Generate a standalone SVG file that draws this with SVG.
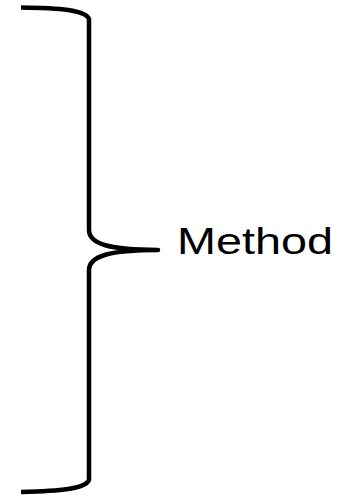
<svg xmlns="http://www.w3.org/2000/svg" width="338" height="499" viewBox="0 0 338 499">
<style>
.brace{fill:none;stroke:#000;stroke-width:4.5;stroke-linecap:butt;stroke-linejoin:round}
.lbl{font-family:"Liberation Sans",Arial,sans-serif;font-size:37.5px;fill:#000}
</style>
<rect width="338" height="499" fill="#fff"/>
<g id="brace">
<path class="brace" d="M21,7.5 C60,8 85,10 89,19 L89,230 C89,244 110,250 158,250 C110,250 89,256 89,270 L89,480 C85,489 60,491 21,492"/>
</g>
<g id="label">
<text class="lbl" x="177" y="254.3" textLength="156" lengthAdjust="spacingAndGlyphs">Method</text>
</g>
</svg>
